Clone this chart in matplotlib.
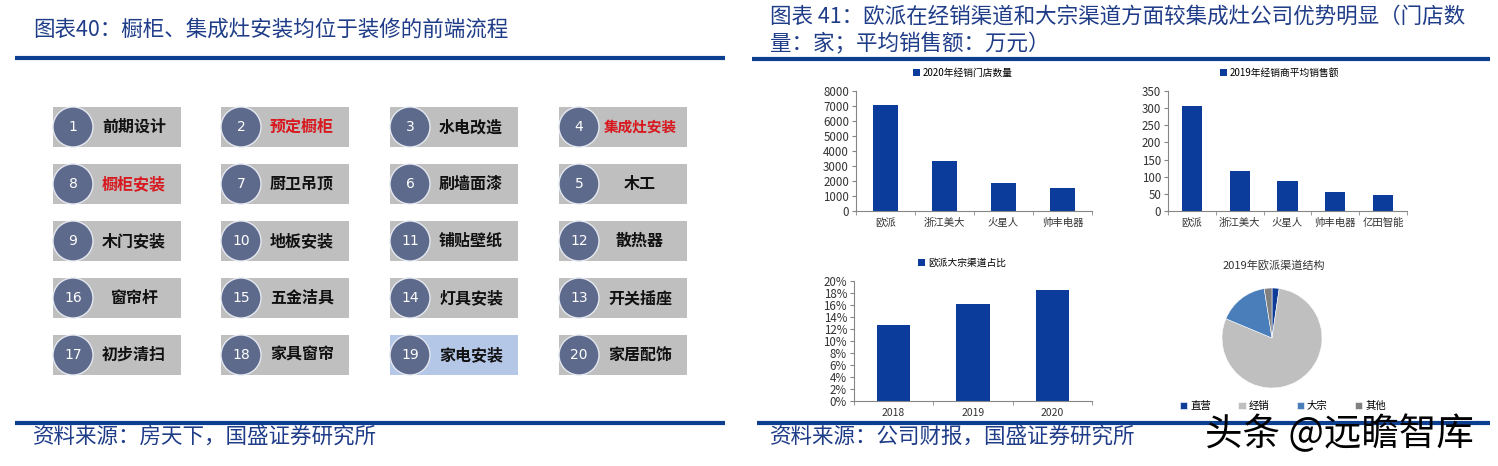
import matplotlib
matplotlib.use('Agg')
import matplotlib.pyplot as plt
from matplotlib.patches import Rectangle, Circle
from matplotlib.ticker import PercentFormatter

plt.rcParams['font.family'] = ['Noto Sans CJK SC', 'DejaVu Sans']

W, H = 1498, 466

# 装修流程, laid out row by row as in the picture
step_nums = [[1, 2, 3, 4], [8, 7, 6, 5], [9, 10, 11, 12], [16, 15, 14, 13], [17, 18, 19, 20]]
step_names = [["前期设计", "预定橱柜", "水电改造", "集成灶安装"],
              ["橱柜安装", "厨卫吊顶", "刷墙面漆", "木工"],
              ["木门安装", "地板安装", "铺贴壁纸", "散热器"],
              ["窗帘杆", "五金洁具", "灯具安装", "开关插座"],
              ["初步清扫", "家具窗帘", "家电安装", "家居配饰"]]
red_steps = [2, 4, 8]
blue_steps = [19]

stores_cats = ["欧派", "浙江美大", "火星人", "帅丰电器"]
stores_vals = [7050, 3350, 1850, 1550]

sales_cats = ["欧派", "浙江美大", "火星人", "帅丰电器", "亿田智能"]
sales_vals = [305, 118, 88, 54, 48]

bulk_years = ["2018", "2019", "2020"]
bulk_share = [0.126, 0.162, 0.185]

pie_labels = ["直营", "经销", "大宗", "其他"]
pie_vals = [2.3, 79.0, 16.2, 2.5]

NAVY = '#0B3C9B'
TITLE_C = '#1F3C88'
LINE_C = '#0D3F91'

fig = plt.figure(figsize=(W / 100, H / 100), dpi=100)
fig.patch.set_facecolor('white')

# overlay in pixel coordinates for titles, lines and the flow boxes
ax0 = fig.add_axes([0, 0, 1, 1])
ax0.set_xlim(0, W)
ax0.set_ylim(H, 0)
ax0.axis('off')

ax0.text(33, 30, "图表40：橱柜、集成灶安装均位于装修的前端流程", fontsize=15.5,
         color=TITLE_C, va='center', ha='left')
ax0.text(770, 17, "图表 41：欧派在经销渠道和大宗渠道方面较集成灶公司优势明显（门店数",
         fontsize=15.5, color=TITLE_C, va='center', ha='left')
ax0.text(770, 44, "量：家；平均销售额：万元）", fontsize=15.5, color=TITLE_C,
         va='center', ha='left')
ax0.plot([15, 725], [58, 58], color=LINE_C, lw=3, solid_capstyle='butt')
ax0.plot([752, 1490], [59, 59], color=LINE_C, lw=3, solid_capstyle='butt')
ax0.plot([15, 725], [423, 423], color=LINE_C, lw=3, solid_capstyle='butt')
ax0.plot([757, 1490], [423, 423], color=LINE_C, lw=3, solid_capstyle='butt')
ax0.text(33, 437, "资料来源：房天下，国盛证券研究所", fontsize=15.5, color=TITLE_C,
         va='center', ha='left')
ax0.text(770, 437, "资料来源：公司财报，国盛证券研究所", fontsize=15.5, color=TITLE_C,
         va='center', ha='left')

col_x = [53, 221, 390, 559]
row_y = [107, 164, 221, 278, 335]
bw, bh = 128, 40
for r, by in enumerate(row_y):
    for c, bx in enumerate(col_x):
        num = step_nums[r][c]
        name = step_names[r][c]
        fc = '#B4C7E7' if num in blue_steps else '#BFBFBF'
        ax0.add_patch(Rectangle((bx, by), bw, bh, facecolor=fc, edgecolor='none'))
        ax0.add_patch(Circle((bx + 20, by + 20), 20, facecolor='#5E6A8C',
                             edgecolor='#E4E8F0', lw=1))
        ax0.text(bx + 20, by + 20, str(num), color='white', fontsize=10,
                 ha='center', va='center', family='DejaVu Sans')
        tc = '#D7191F' if num in red_steps else '#111111'
        fs = 10.5 if len(name) > 4 else 11.5
        ax0.text(bx + 81, by + 20, name, color=tc, fontsize=fs, fontweight='bold',
                 ha='center', va='center')


def px_axes(x0, y0, x1, y1):
    return fig.add_axes([x0 / W, 1 - y1 / H, (x1 - x0) / W, (y1 - y0) / H])


def bar_chart(box, cats, vals, ymax, step, legend_label, legend_xy, pct=False):
    ax = px_axes(*box)
    ax.set_facecolor('none')
    x = list(range(len(cats)))
    ax.bar(x, vals, width=0.42, color=NAVY, label=legend_label)
    ax.set_xlim(-0.5, len(cats) - 0.5)
    ax.set_ylim(0, ymax)
    ticks = []
    v = 0
    while v <= ymax + 1e-9:
        ticks.append(v)
        v += step
    ax.set_yticks(ticks)
    if pct:
        ax.yaxis.set_major_formatter(PercentFormatter(1.0, decimals=0))
    ax.set_xticks(x)
    ax.set_xticklabels(cats)
    ax.set_xticks([i - 0.5 for i in range(len(cats) + 1)], minor=True)
    ax.tick_params(axis='x', which='major', length=0, labelsize=7.5,
                   colors='#333333', pad=5)
    ax.tick_params(axis='x', which='minor', length=3, color='#868686')
    ax.tick_params(axis='y', length=3, color='#868686', labelsize=8.3,
                   labelcolor='#333333', pad=2)
    for s in ['top', 'right']:
        ax.spines[s].set_visible(False)
    for s in ['left', 'bottom']:
        ax.spines[s].set_color('#868686')
        ax.spines[s].set_linewidth(0.8)
    ax.legend(loc='center', bbox_to_anchor=(legend_xy[0] / W, 1 - legend_xy[1] / H),
              bbox_transform=fig.transFigure, frameon=False, fontsize=7,
              handlelength=0.7, handleheight=0.7, handletextpad=0.3)
    return ax


bar_chart((856, 91, 1092, 211), stores_cats, stores_vals, 8000, 1000,
          "2020年经销门店数量", (963, 73))
bar_chart((1168, 91, 1407, 211), sales_cats, sales_vals, 350, 50,
          "2019年经销商平均销售额", (1280, 73))
bar_chart((854, 281, 1092, 401), bulk_years, bulk_share, 0.20, 0.02,
          "欧派大宗渠道占比", (962, 263), pct=True)

# pie
axp = px_axes(1222, 288, 1322, 388)
wedges, _ = axp.pie(pie_vals, startangle=90, counterclock=False,
                    colors=['#0E3C96', '#BFBFBF', '#4A7EBB', '#808080'],
                    wedgeprops=dict(edgecolor='white', linewidth=0.4))
axp.set_xlim(-1, 1)
axp.set_ylim(-1, 1)
axp.set_aspect('equal')
ax0.text(1274, 265, "2019年欧派渠道结构", fontsize=8, color='#333333',
         ha='center', va='center')
axp.legend(wedges, pie_labels, loc='center', ncol=4,
           bbox_to_anchor=(1283 / W, 1 - 406 / H), bbox_transform=fig.transFigure,
           frameon=False, fontsize=7.5, handlelength=0.7, handleheight=0.7,
           handletextpad=0.3, columnspacing=2.6)

# watermark
ax0.text(1205, 435, "头条 @远瞻智库", fontsize=27, color='black',
         ha='left', va='center', zorder=10)

fig.savefig('out.png', dpi=100)
